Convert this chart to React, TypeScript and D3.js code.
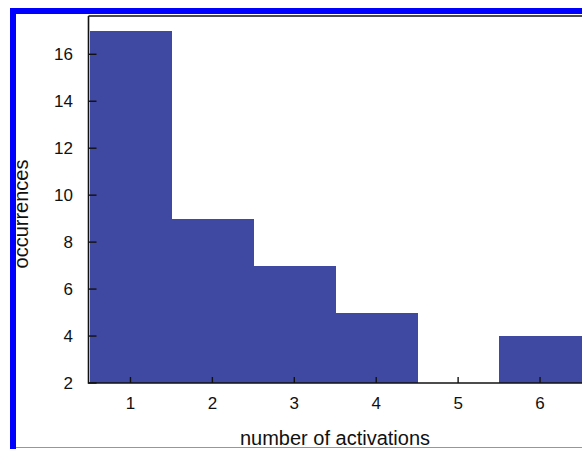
import React from "react";
import * as d3 from "d3";

const categories = [1, 2, 3, 4, 5, 6];
const occurrences = [17, 9, 7, 5, 0, 4];
const yTicks = [2, 4, 6, 8, 10, 12, 14, 16];
const xLabel = "number of activations";
const yLabel = "occurrences";

const W = 582;
const H = 449;
const left = 88.5;
const right = 581;
const top = 16;
const bottom = 383;
const barColor = "#4049a1";
const font = "'Liberation Sans', Arial, Helvetica, sans-serif";

export default function App() {
  const x = d3.scaleLinear().domain([0.5, 6.5]).range([left + 1, right]);
  const y = d3.scaleLinear().domain([2, 17.63]).range([bottom, top]).clamp(true);

  return (
    <svg
      width={W}
      height={H}
      style={{ position: "absolute", left: 0, top: 0, background: "#fff" }}
    >
      {/* outer blue frame */}
      <rect x={13} y={11} width={W + 20} height={H} fill="none" stroke="#0000ff" strokeWidth={6} />
      <line x1={16} x2={W} y1={447.5} y2={447.5} stroke="#8a8aff" strokeWidth={1} />
      {/* bars */}
      {categories.map((c, i) => {
        const v = occurrences[i];
        const y0 = y(v);
        const h = bottom - y0;
        if (h <= 0) return null;
        return (
          <rect
            key={c}
            x={x(c - 0.5)}
            y={y0}
            width={x(c + 0.5) - x(c - 0.5) + 0.6}
            height={h}
            fill={barColor}
            shapeRendering="crispEdges"
          />
        );
      })}
      {/* frame lines */}
      <line x1={left} x2={W} y1={top} y2={top} stroke="#111" strokeWidth={1.6} />
      <line x1={left} x2={left} y1={top} y2={bottom + 0.8} stroke="#111" strokeWidth={1.6} />
      <line x1={left} x2={W} y1={bottom} y2={bottom} stroke="#111" strokeWidth={1.6} />
      {/* y ticks */}
      {yTicks.map((t) => (
        <g key={t}>
          <line x1={left} x2={left + 8} y1={y(t)} y2={y(t)} stroke="#111" strokeWidth={1.4} />
          <text
            x={73}
            y={y(t)}
            dy="0.36em"
            textAnchor="end"
            fontFamily={font}
            fontSize={17}
            fill="#111"
          >
            {t}
          </text>
        </g>
      ))}
      {/* x ticks */}
      {categories.map((c) => (
        <g key={c}>
          <line x1={x(c)} x2={x(c)} y1={bottom} y2={bottom - 6} stroke="#111" strokeWidth={1.4} />
          <text
            x={x(c)}
            y={409}
            textAnchor="middle"
            fontFamily={font}
            fontSize={17}
            fill="#111"
          >
            {c}
          </text>
        </g>
      ))}
      {/* axis titles */}
      <text
        x={335}
        y={445}
        textAnchor="middle"
        fontFamily={font}
        fontSize={20}
        fill="#111"
      >
        {xLabel}
      </text>
      <text
        transform="translate(28.3,214) rotate(-90)"
        textAnchor="middle"
        fontFamily={font}
        fontSize={20}
        fill="#111"
      >
        {yLabel}
      </text>
    </svg>
  );
}
